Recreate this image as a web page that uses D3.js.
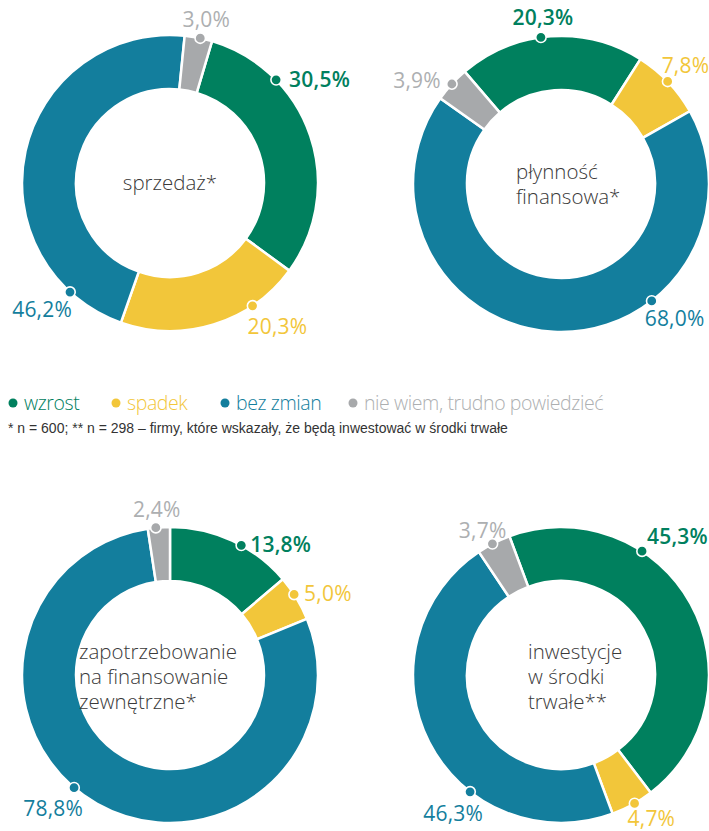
<!DOCTYPE html>
<html><head><meta charset="utf-8">
<script src="https://cdn.jsdelivr.net/npm/d3@7"></script>
<style>
html,body{margin:0;padding:0;background:#fff;}
svg{display:block;font-family:"Open Sans",sans-serif;}
</style></head>
<body><svg id="c" width="709" height="831"></svg>
<script>
// ---- data ----
const categories = ["wzrost", "spadek", "bez zmian", "nie wiem, trudno powiedzieć"];
const chartTitles = [
  ["sprzedaż*"],
  ["płynność", "finansowa*"],
  ["zapotrzebowanie", "na finansowanie", "zewnętrzne*"],
  ["inwestycje", "w środki", "trwałe**"]
];
const sprzedazValues = [30.5, 20.3, 46.2, 3.0];
const plynnoscValues = [20.3, 7.8, 68.0, 3.9];
const zapotrzebowanieValues = [13.8, 5.0, 78.8, 2.4];
const inwestycjeValues = [45.3, 4.7, 46.3, 3.7];
const footnote = "* n = 600; ** n = 298  – firmy, które wskazały, że będą  inwestować w środki trwałe";

// ---- styles / layout ----
const colors = ["#00805e", "#f2c63a", "#137e9d", "#a7a9ab"];
const labelColors = ["#00805e", "#f2c63a", "#137e9d", "#adafb1"];
const charts = [
  {values: sprzedazValues, cx: 170, cy: 183, start: 16.5, title: chartTitles[0], titleX: 170, titleAnchor: "middle", titleY: 183,
   dotAng: [45.8, 146.1, 222.5, 11.8], lab: [[13,0,"start"],[-5,21,"start"],[2,17,"end"],[6,-19,"middle"]]},
  {values: plynnoscValues, cx: 561, cy: 184, start: -40.6, title: chartTitles[1], titleX: 516, titleAnchor: "start", titleY: 184,
   dotAng: [352.2, 46.1, 142.2, 312.5], lab: [[2,-20,"middle"],[-6,-16,"start"],[-7,17,"start"],[-11,-4,"end"]]},
  {values: zapotrzebowanieValues, cx: 170, cy: 675, start: 0, title: chartTitles[2], titleX: 79, titleAnchor: "start", titleY: 677,
   dotAng: [28.8, 57.0, 220.4, 354.5], lab: [[9,-1,"start"],[10,-1,"start"],[9,21,"end"],[1,-18,"middle"]]},
  {values: inwestycjeValues, cx: 561, cy: 675, start: -20.4, title: chartTitles[3], titleX: 528, titleAnchor: "start", titleY: 677,
   dotAng: [33.2, 150.2, 217.9, 332.4], lab: [[5,-15,"start"],[-7,14.5,"start"],[13,22,"end"],[14,-13,"end"]]}
];
const outerR = 148, innerR = 94;
const svg = d3.select("#c");
const rad = d => d * Math.PI / 180;
const fmt = v => d3.format(".1f")(v).replace(".", ",") + "%";

charts.forEach(ch => {
  const pie = d3.pie().sort(null).value(d => d)
    .startAngle(rad(ch.start)).endAngle(rad(ch.start + 360));
  const arc = d3.arc().innerRadius(innerR).outerRadius(outerR);
  const g = svg.append("g").attr("transform", `translate(${ch.cx},${ch.cy})`);
  const arcs = pie(ch.values);
  g.selectAll("path").data(arcs).join("path")
    .attr("d", arc)
    .attr("fill", (d, i) => colors[i])
    .attr("stroke", "#fff").attr("stroke-width", 2.5);

  // dots & labels
  arcs.forEach((d, i) => {
    const a = rad(ch.dotAng[i]);
    const x = Math.sin(a) * outerR, y = -Math.cos(a) * outerR;
    g.append("circle").attr("cx", x).attr("cy", y).attr("r", 5.2)
      .attr("fill", colors[i]).attr("stroke", "#fff").attr("stroke-width", 1.6);
    const [dx, dy, anchor] = ch.lab[i];
    g.append("text").attr("x", x + dx).attr("y", y + dy + 7.6)
      .attr("text-anchor", anchor)
      .attr("font-size", 21).attr("font-weight", i === 0 ? 600 : 500)
      .attr("letter-spacing", 0.2)
      .attr("fill", labelColors[i])
      .text(fmt(d.data));
  });

  // centre title
  const n = ch.title.length, lh = 25;
  ch.title.forEach((line, k) => {
    svg.append("text").attr("font-size", 20.5).attr("fill", "#3a3a3a")
      .attr("font-weight", 300).attr("text-anchor", ch.titleAnchor)
      .attr("x", ch.titleX)
      .attr("y", ch.titleY - (n - 1) * lh / 2 + k * lh + 7)
      .text(line);
  });
});

// legend
const legX = [13, 116, 225, 353];
const lg = svg.append("g");
categories.forEach((c, i) => {
  lg.append("circle").attr("cx", legX[i]).attr("cy", 403).attr("r", 4.5).attr("fill", colors[i]);
  lg.append("text").attr("x", legX[i] + 11).attr("y", 410)
    .attr("font-size", 19.5).attr("font-weight", 300).attr("letter-spacing", -0.4)
    .attr("fill", labelColors[i]).text(c);
});
svg.append("text").attr("x", 8).attr("y", 433)
  .attr("font-size", 14).attr("fill", "#333")
  .attr("font-family", "'Liberation Sans Narrow', sans-serif")
  .text(footnote);
</script></body></html>
